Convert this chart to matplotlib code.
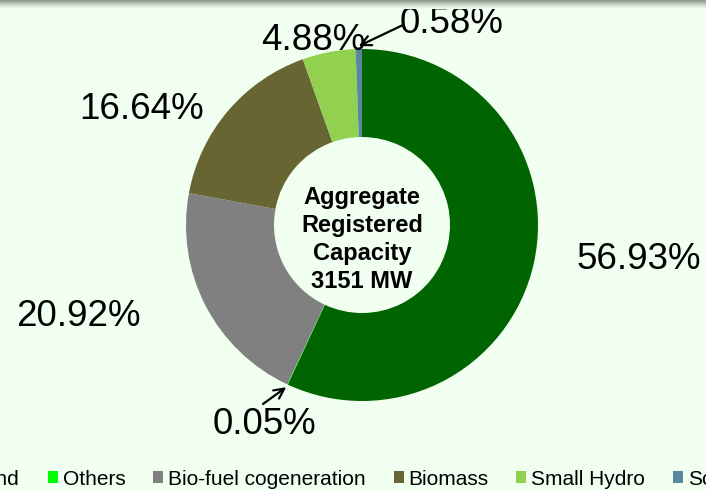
import numpy as np
import matplotlib.pyplot as plt
from matplotlib.colors import LinearSegmentedColormap

plt.rcParams['font.family'] = ['Liberation Sans', 'DejaVu Sans']

# capacity shares (%), clockwise from the top
sources = ['Wind', 'Others', 'Bio-fuel cogeneration', 'Biomass', 'Small Hydro', 'Solar']
shares = [56.93, 0.05, 20.92, 16.64, 4.88, 0.58]
colors = ['#006400', '#00ff00', '#808080', '#676633', '#92d050', '#5a86a0']
total_mw = 3151

W, H = 706, 490
bg = '#f0fff0'

fig = plt.figure(figsize=(W / 100, H / 100), dpi=100, facecolor=bg)
ax = fig.add_axes([0, 0, 1, 1])

# grey band across the top
grad = np.linspace(0, 1, 10).reshape(-1, 1)
top = fig.add_axes([0, 1 - 9 / H, 1, 9 / H])
top.imshow(grad, aspect='auto', extent=(0, 1, 0, 1),
           cmap=LinearSegmentedColormap.from_list('g', ['#8c9a8c', '#c8d4c8', bg]))
top.axis('off')

cx, cy, r = 362, H - 225, 176
wedges, _ = ax.pie(shares, colors=colors, startangle=90, counterclock=False,
                   center=(cx, cy), radius=r, frame=True,
                   wedgeprops=dict(width=r * 0.5, edgecolor='none'))
ax.set_xlim(0, W)
ax.set_ylim(0, H)
ax.axis('off')

# label positions: (centre x, baseline y) in px from top-left
label_pos = [(639, 269), (264, 434), (78, 326), (142, 119), (313, 50), (452, 33)]
arrow_tail = {1: (263, 404), 5: (403, 25)}

for i, (v, w) in enumerate(zip(shares, wedges)):
    x, y = label_pos[i]
    ax.text(x, H - y, f'{v:.2f}%', fontsize=26.5, ha='center', va='baseline', color='black')
    if i in arrow_tail:
        ang = np.deg2rad((w.theta1 + w.theta2) / 2)
        hx, hy = cx + (r + 3) * np.cos(ang), cy + (r + 3) * np.sin(ang)
        tx, ty = arrow_tail[i]
        ax.annotate('', xy=(hx, hy), xytext=(tx, H - ty),
                    arrowprops=dict(arrowstyle='->', color='black', lw=1.6,
                                    mutation_scale=18, shrinkA=0, shrinkB=0))

ax.text(cx, H - 288, f'Aggregate\nRegistered\nCapacity\n{total_mw} MW', fontsize=17,
        fontweight='bold', ha='center', va='baseline', linespacing=1.27,
        multialignment='center')

fig.legend(wedges, sources, loc='center', bbox_to_anchor=(347 / W, 1 - 479 / H),
           ncol=6, frameon=False, fontsize=15, handlelength=0.48, handleheight=0.48,
           handletextpad=0.24, columnspacing=1.33, borderaxespad=0)

fig.savefig('out.png', dpi=100, facecolor=bg)
